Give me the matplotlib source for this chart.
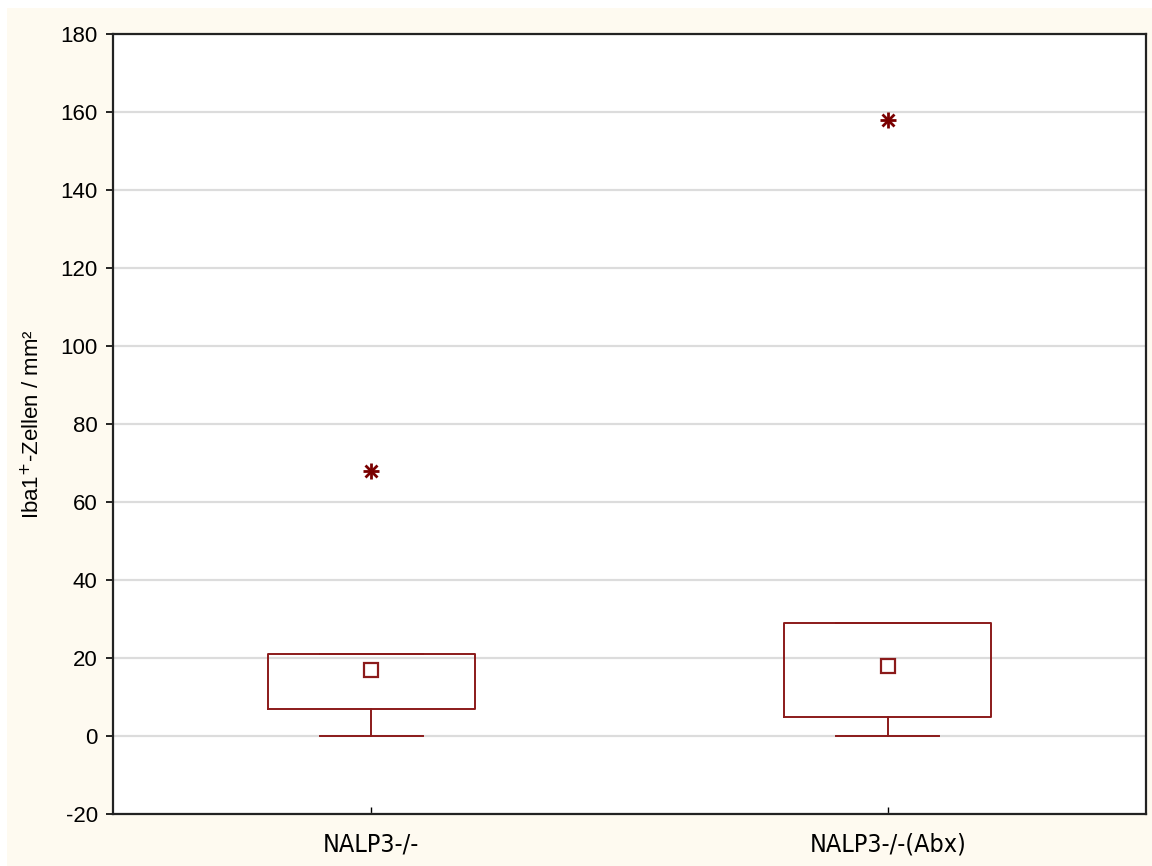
import matplotlib
matplotlib.use("Agg")
import matplotlib.pyplot as plt
from matplotlib.patches import Rectangle

# Group summaries (Iba1+ cells per mm²)
groups = ["NALP3-/-", "NALP3-/-(Abx)"]
medians = [17, 18]
q1 = [7, 5]
q3 = [21, 29]
whisker_low = [0, 0]
whisker_high = [21, 29]
outliers = [[68], [158]]

y_ticks = list(range(-20, 181, 20))

box_color = "#8B1A1A"
flier_color = "#7A0000"

fig = plt.figure(figsize=(11.52, 8.66), dpi=100, facecolor="white")
# cream panel behind the plot
fig.patches.append(Rectangle((7 / 1152, 0), 1 - 7 / 1152, 1 - 8 / 866,
                             transform=fig.transFigure, facecolor="#FEFAF0",
                             edgecolor="none", zorder=-10))

ax = fig.add_axes([113 / 1152, 52 / 866, 1033 / 1152, 780 / 866])
ax.set_facecolor("white")

positions = [1, 2]
stats = []
for i, g in enumerate(groups):
    stats.append(dict(label=g, med=medians[i], q1=q1[i], q3=q3[i],
                      whislo=whisker_low[i], whishi=whisker_high[i],
                      fliers=outliers[i], mean=medians[i]))

ax.bxp(stats, positions=positions, widths=0.40, capwidths=0.20,
       showmeans=True, showfliers=True,
       boxprops=dict(color=box_color, linewidth=1.4),
       whiskerprops=dict(color=box_color, linewidth=1.4),
       capprops=dict(color=box_color, linewidth=1.4),
       medianprops=dict(linewidth=0, color=box_color),
       meanprops=dict(marker="s", markersize=9.5, markerfacecolor="white",
                      markeredgecolor=box_color, markeredgewidth=1.6),
       flierprops=dict(marker="+", markersize=11, markeredgecolor=flier_color,
                       markeredgewidth=2.0, linestyle="none"),
       zorder=3)

# second stroke set turns the outlier crosses into asterisks
for pos, vals in zip(positions, outliers):
    ax.plot([pos] * len(vals), vals, linestyle="none", marker="x",
            markersize=8, markeredgecolor=flier_color, markeredgewidth=2.0,
            zorder=4)

ax.set_xlim(0.5, 2.5)
ax.set_ylim(-20, 180)
ax.set_yticks(y_ticks)
ax.set_yticklabels([str(t) for t in y_ticks], fontsize=16,
                   family=["Liberation Sans", "DejaVu Sans"])
ax.set_xticks(positions)
ax.set_xticklabels(groups, fontsize=18, family="DejaVu Sans",
                   fontstretch="condensed")

ax.yaxis.grid(True, color="#DCDCDC", linewidth=1.6, zorder=0)
ax.set_axisbelow(True)

ax.tick_params(axis="y", direction="out", length=5, width=1.2, pad=6)
ax.tick_params(axis="x", direction="in", length=5, width=1.0, pad=13)

for side in ["left", "right", "top", "bottom"]:
    ax.spines[side].set_color("#222222")
    ax.spines[side].set_linewidth(1.6)

ax.set_ylabel(r"Iba1$^{+}$-Zellen / mm²", fontsize=16,
              family=["Liberation Sans", "DejaVu Sans"], labelpad=12)

fig.savefig("out.png", dpi=100, facecolor=fig.get_facecolor())
